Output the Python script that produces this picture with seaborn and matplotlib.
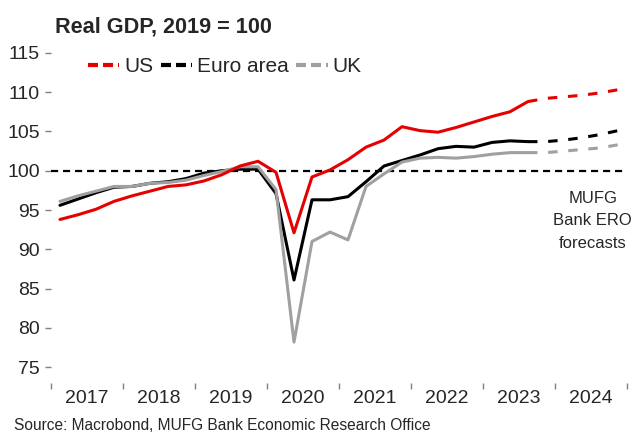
import matplotlib
matplotlib.use('Agg')
import matplotlib.pyplot as plt
from matplotlib.lines import Line2D
import numpy as np
import pandas as pd
import seaborn as sns

# quarterly data, 2017Q1 .. 2023Q3 actual, 2023Q3 .. 2024Q4 forecast
years = ['2017', '2018', '2019', '2020', '2021', '2022', '2023', '2024']
quarters = pd.period_range('2017Q1', '2024Q4', freq='Q').astype(str)

us = [93.8, 94.4, 95.1, 96.1, 96.8, 97.4, 98.0, 98.2, 98.7, 99.5, 100.6, 101.2,
      99.8, 92.1, 99.2, 100.1, 101.4, 103.0, 103.9, 105.6, 105.1, 104.9, 105.5, 106.2,
      106.9, 107.5, 108.8]
euro = [95.6, 96.4, 97.2, 97.9, 98.0, 98.4, 98.6, 99.0, 99.7, 100.0, 100.2, 100.2,
        97.1, 86.1, 96.3, 96.3, 96.7, 98.6, 100.6, 101.3, 102.0, 102.8, 103.1, 103.0,
        103.6, 103.8, 103.7]
uk = [96.1, 96.8, 97.4, 98.0, 98.0, 98.4, 98.5, 98.8, 99.4, 99.9, 100.5, 100.5,
      97.6, 78.2, 91.0, 92.2, 91.2, 98.0, 99.6, 101.1, 101.6, 101.7, 101.6, 101.8,
      102.1, 102.3, 102.3]

us_fc = [108.8, 109.2, 109.4, 109.6, 109.9, 110.3]
euro_fc = [103.7, 103.7, 103.9, 104.2, 104.6, 105.1]
uk_fc = [102.3, 102.3, 102.5, 102.7, 102.9, 103.3]

n_act = len(us)
df = pd.DataFrame({'q': np.arange(n_act), 'US': us, 'Euro area': euro, 'UK': uk})
df_fc = pd.DataFrame({'q': np.arange(n_act - 1, len(quarters)),
                      'US': us_fc, 'Euro area': euro_fc, 'UK': uk_fc})

colors = {'US': '#e60000', 'Euro area': '#000000', 'UK': '#a0a0a0'}

sns.set_style('white')
plt.rcParams['font.family'] = ['Liberation Sans', 'DejaVu Sans']

fig = plt.figure(figsize=(6.32, 4.32), dpi=100)
ax = fig.add_axes([51/632, 49/432, 576/632, 342/432])

ax.axhline(100, color='black', lw=1.6, ls=(0, (3.2, 2.2)), zorder=1)

lw = 2.2
for name in ['Euro area', 'UK', 'US']:
    sns.lineplot(data=df, x='q', y=name, color=colors[name], lw=lw, ax=ax, zorder=3)
    sns.lineplot(data=df_fc, x='q', y=name, color=colors[name], lw=lw, ax=ax,
                 linestyle=(0, (3.1, 3.5)), zorder=3)

ax.set_xlim(-0.5, len(quarters) - 0.5)
ax.set_ylim(73, 116.5)
ax.set_yticks(np.arange(75, 116, 5))
ax.set_xticks(np.arange(-0.5, len(quarters), 4))
ax.set_xticklabels([])
ax.set_xticks(np.arange(1.5, len(quarters), 4), minor=True)
ax.set_xticklabels(years, minor=True)
ax.set_xlabel('')
ax.set_ylabel('')
for s in ax.spines.values():
    s.set_visible(False)

ax.tick_params(axis='y', which='major', left=True, length=4, width=1, color='#808080',
               labelsize=14, pad=4)
ax.tick_params(axis='x', which='major', bottom=True, length=4, width=1, color='#808080')
ax.tick_params(axis='x', which='minor', bottom=False, labelsize=14, pad=3)

ax.text(29.6, 97.4, 'MUFG\nBank ERO\nforecasts', ha='center', va='top', fontsize=12,
        linespacing=1.6)

handles = [Line2D([], [], color=colors[k], lw=3, ls=(0, (2.4, 1.2))) for k in ['US', 'Euro area', 'UK']]
fig.legend(handles, ['US', 'Euro area', 'UK'], loc='upper left',
           bbox_to_anchor=(88/632, 1 - 57/432), ncol=3, frameon=False, fontsize=15,
           handlelength=1.5, handletextpad=0.25, columnspacing=0.35, borderpad=0,
           borderaxespad=0)

fig.text(55/632, 1 - 32/432, 'Real GDP, 2019 = 100', fontsize=15.6, fontweight='bold',
         ha='left', va='baseline')
fig.text(14/632, 1 - 430/432, 'Source: Macrobond, MUFG Bank Economic Research Office',
         fontsize=11.2, ha='left', va='baseline')

fig.savefig('out.png', dpi=100)
